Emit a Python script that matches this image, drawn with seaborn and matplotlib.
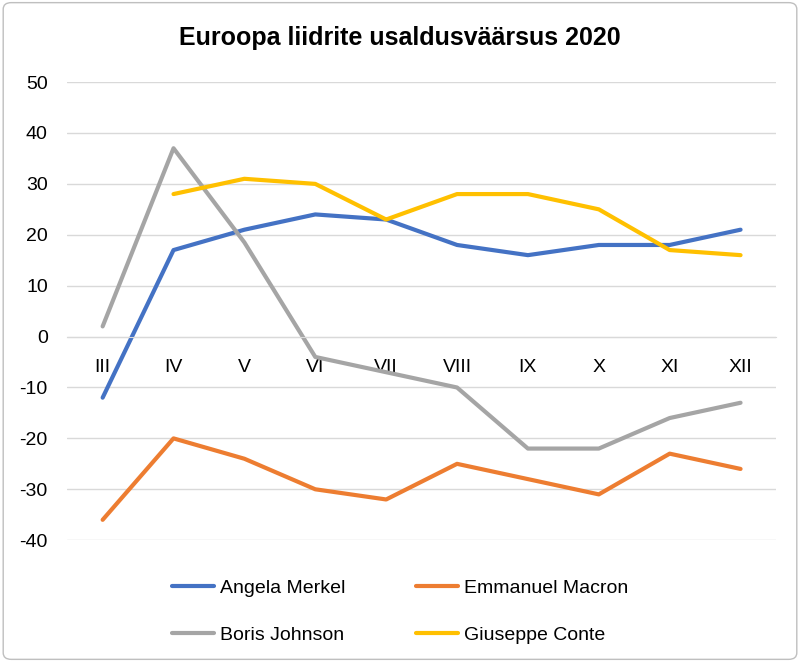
import numpy as np
import pandas as pd
import matplotlib
matplotlib.use("Agg")
import matplotlib.pyplot as plt
import seaborn as sns
from matplotlib.patches import FancyBboxPatch

months = ["III", "IV", "V", "VI", "VII", "VIII", "IX", "X", "XI", "XII"]
merkel = [-12, 17, 21, 24, 23, 18, 16, 18, 18, 21]
macron = [-36, -20, -24, -30, -32, -25, -28, -31, -23, -26]
johnson = [2, 37, 18.5, -4, -7, -10, -22, -22, -16, -13]
conte = [np.nan, 28, 31, 30, 23, 28, 28, 25, 17, 16]
names = ["Angela Merkel", "Emmanuel Macron", "Boris Johnson", "Giuseppe Conte"]
colors = ["#4472C4", "#ED7D31", "#A5A5A5", "#FFC000"]
title = "Euroopa liidrite usaldusväärsus 2020"

sns.set_style("white")
plt.rcParams["font.family"] = ["Liberation Sans", "DejaVu Sans"]
plt.rcParams["axes.unicode_minus"] = False
plt.rcParams["text.color"] = "black"

rows = []
for name, vals in zip(names, [merkel, macron, johnson, conte]):
    for i, (m, v) in enumerate(zip(months, vals)):
        rows.append({"idx": i, "month": m, "value": v, "leader": name})
df = pd.DataFrame(rows)

fig = plt.figure(figsize=(8, 6.62), dpi=100)
ax = fig.add_axes([0.084, 0.184, 0.886, 0.692])

sns.lineplot(data=df, x="idx", y="value", hue="leader", hue_order=names,
             palette=colors, linewidth=3, ax=ax, legend=True, sort=False)

ax.set_xlim(-0.5, len(months) - 0.5)
ax.set_ylim(-40, 50)
ax.set_yticks(range(-40, 51, 10))
ax.set_xticks(range(len(months)))
ax.set_xticklabels(months)
ax.set_xlabel("")
ax.set_ylabel("")
ax.grid(axis="y", color="#D9D9D9", linewidth=1)
ax.set_axisbelow(True)
for s in ["top", "right", "left"]:
    ax.spines[s].set_visible(False)
ax.spines["bottom"].set_position(("data", 0))
ax.spines["bottom"].set_color("#D9D9D9")
ax.tick_params(axis="x", length=0, pad=16, labelsize=14, labelcolor="black")
ax.tick_params(axis="y", length=0, pad=14, labelsize=14, labelcolor="black")

handles, labels = ax.get_legend_handles_labels()
ax.get_legend().remove()
order = [0, 2, 1, 3]
fig.legend([handles[i] for i in order], [labels[i] for i in order],
           loc="upper center", bbox_to_anchor=(0.5, 0.184 - 0.033),
           ncol=2, frameon=False, fontsize=14, handlelength=2.2,
           columnspacing=3.6, labelspacing=1.5, handletextpad=0.3,
           labelcolor="black")

fig.text(0.5, 0.943, title, ha="center", va="center", fontsize=18,
         fontweight="bold", color="black")

border = FancyBboxPatch((0.004, 0.004), 0.992, 0.992,
                        boxstyle="round,pad=0,rounding_size=0.01",
                        transform=fig.transFigure, fill=False,
                        edgecolor="#BFBFBF", linewidth=1)
fig.patches.append(border)

fig.savefig("out.png", dpi=100)
